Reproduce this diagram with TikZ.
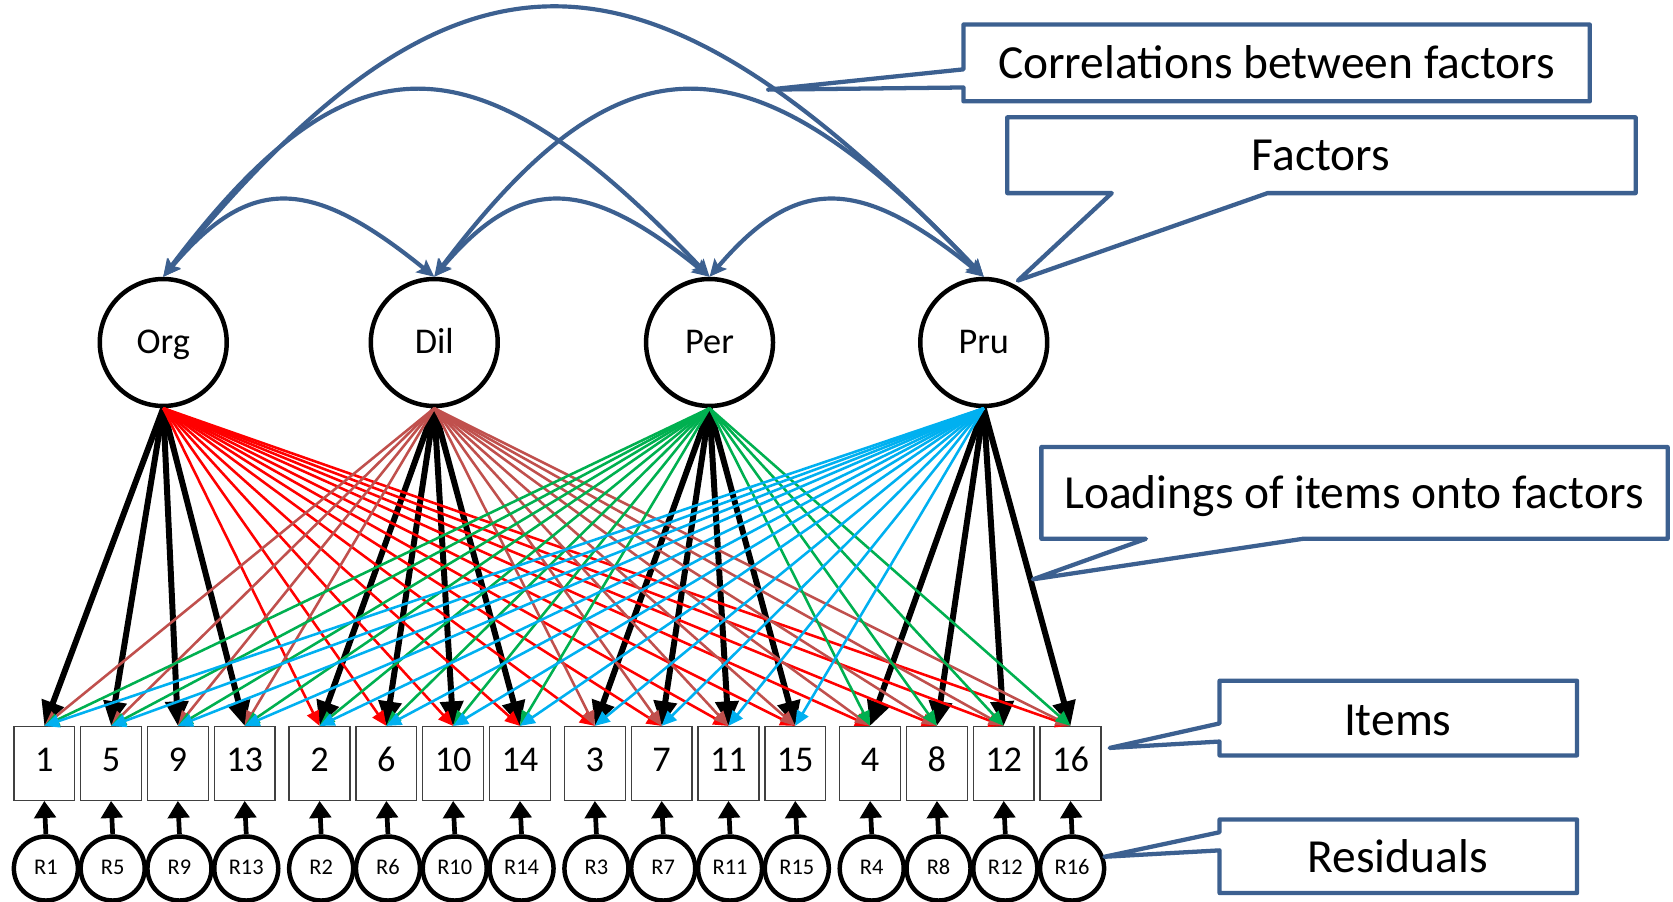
\documentclass[tikz,border=0pt]{standalone}
\usepackage{fontspec}
\setmainfont{Carlito}
\usetikzlibrary{arrows.meta}
\definecolor{calloutblue}{HTML}{3C6090}
\definecolor{orgred}{HTML}{FF0000}
\definecolor{dilred}{HTML}{C0504D}
\definecolor{pergreen}{HTML}{00B050}
\definecolor{prublue}{HTML}{00B0F0}
\definecolor{boxgray}{HTML}{404040}
\begin{document}
\begin{tikzpicture}[x=1pt,y=-1pt,
  factornode/.style={circle, draw=black, line width=4.2pt, minimum size=119pt, inner sep=0pt,
    font=\fontsize{34}{36}\selectfont, text height=21.5pt, text depth=0pt},
  itembox/.style={rectangle, draw=boxgray, line width=1.3pt, minimum width=57pt, minimum height=69pt,
    inner sep=0pt, fill=white, font=\fontsize{34}{36}\selectfont, text height=22pt, text depth=6pt},
  residnode/.style={circle, draw=black, line width=4.2pt, minimum size=60pt, inner sep=0pt,
    font=\fontsize{21}{22}\selectfont, text height=13.5pt, text depth=2pt},
  ownload/.style={line width=5.6pt, -{Triangle[length=23pt,width=21pt]}},
  crossload/.style={line width=2.4pt, -{Triangle[length=14pt,width=12pt]}},
  residarrow/.style={line width=4.4pt, -{Triangle[length=16pt,width=20pt]}},
  corrarc/.style={draw=calloutblue, line width=3.9pt,
    {Stealth[length=16pt,width=15pt,inset=3pt]}-{Stealth[length=16pt,width=15pt,inset=3pt]}},
  calloutshape/.style={draw=calloutblue, line width=4pt, line join=round, fill=white},
  calltext/.style={font=\fontsize{44.5}{48}\selectfont, anchor=base, inner sep=0pt}
]
\useasboundingbox (0,0) rectangle (1568,845);
\fill[white] (0,0) rectangle (1568,845);

% latent factors
\foreach \name/\lab/\x in {org/Org/153, dil/Dil/407, per/Per/665, pru/Pru/922}
  \node[factornode] (\name) at (\x,321) {\lab};

% items and their residuals
\foreach \n in {1,...,16} {
  \pgfmathtruncatemacro\g{mod(\n-1,4)}
  \pgfmathtruncatemacro\i{div(\n-1,4)}
  \pgfmathsetmacro\xx{41.5+\g*258+\i*62.6}
  \node[itembox] (i\n) at (\xx,715.5) {\n};
  \node[residnode] (r\n) at (\xx+1.5,814) {R\n};
  \draw[residarrow] (r\n.north) -- (i\n.south);
}

% primary loadings
\foreach \f/\g in {org/0, dil/1, per/2, pru/3}
  \foreach \i in {0,...,3} {
    \pgfmathtruncatemacro\n{\g+1+4*\i}
    \draw[ownload] (\f.south) -- (i\n.north);
  }

% cross loadings
\foreach \f/\g/\col in {org/0/orgred, dil/1/dilred, per/2/pergreen, pru/3/prublue}
  \foreach \n in {1,...,16} {
    \pgfmathtruncatemacro\gg{mod(\n-1,4)}
    \ifnum\gg=\g\relax\else
      \draw[crossload, draw=\col, fill=\col] (\f.south) -- (i\n.north);
    \fi
  }

% factor correlations
\draw[corrarc] (org.north) .. controls +(81,-95) and +(-117,-95) .. (dil.north);
\draw[corrarc] (dil.north) .. controls +(81,-95) and +(-117,-95) .. (per.north);
\draw[corrarc] (per.north) .. controls +(81,-95) and +(-117,-95) .. (pru.north);
\draw[corrarc] (org.north) .. controls +(175,-232) and +(-220,-232) .. (per.north);
\draw[corrarc] (dil.north) .. controls +(175,-232) and +(-220,-232) .. (pru.north);
\draw[corrarc] (org.north) .. controls +(274,-335) and +(-321,-335) .. (pru.north);

% callouts
\draw[calloutshape] (903,23) -- (1490,23) -- (1490,95) -- (903,95) -- (903,82) -- (720,84) -- (903,65) -- cycle;
\node[calltext] (tcorr) at (1196.5,74) {Correlations between factors};

\draw[calloutshape] (944,110) -- (1533,110) -- (1533,181) -- (1188,181) -- (954,263) -- (1042,181) -- (944,181) -- cycle;
\node[calltext] (tfac) at (1238,160) {Factors};

\draw[calloutshape] (976,419) -- (1563,419) -- (1563,505) -- (1221,505) -- (968,543) -- (1074,505) -- (976,505) -- cycle;
\node[calltext] (tload) at (1269,477) {Loadings of items onto factors};

\draw[calloutshape] (1143,638) -- (1478,638) -- (1478,708) -- (1143,708) -- (1143,695) -- (1040,701) -- (1143,678) -- cycle;
\node[calltext] (titems) at (1310,689) {Items};

\draw[calloutshape] (1143,768) -- (1478,768) -- (1478,837) -- (1143,837) -- (1143,797) -- (1035,803) -- (1143,780) -- cycle;
\node[calltext] (tres) at (1310,817.5) {Residuals};
\end{tikzpicture}
\end{document}
